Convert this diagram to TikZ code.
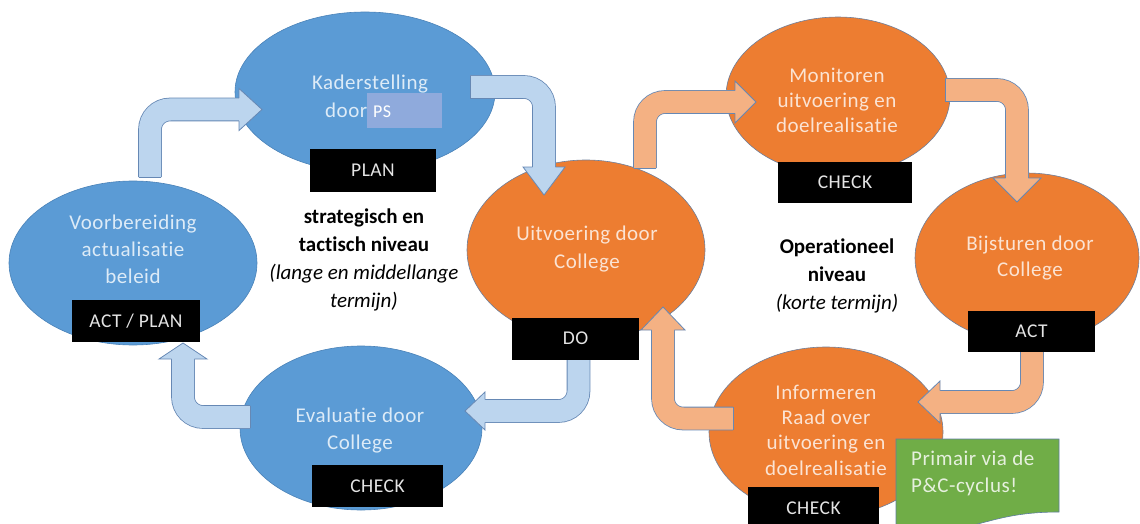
\documentclass[tikz,border=0pt]{standalone}
\usepackage{fontspec}
\setmainfont{Carlito}[Ligatures=NoCommon]
\newfontfamily\spc{Carlito}[LetterSpace=2.5,Ligatures=NoCommon]
\usetikzlibrary{shapes.geometric}
\definecolor{ellblue}{HTML}{5B9BD5}
\definecolor{ellblueline}{HTML}{4A82B8}
\definecolor{ellorange}{HTML}{ED7D31}
\definecolor{ellorangeline}{HTML}{6F7F9A}
\definecolor{arrblue}{HTML}{BCD5EE}
\definecolor{arrorange}{HTML}{F4B183}
\definecolor{arrline}{HTML}{6688B4}
\definecolor{btxt}{HTML}{DDEBF7}
\definecolor{otxt}{HTML}{FBE3D3}
\definecolor{tagtxt}{HTML}{E4E4E4}
\definecolor{psbox}{HTML}{8FAADC}
\definecolor{notegreen}{HTML}{70AD47}
\definecolor{noteline}{HTML}{5E7E9E}
\definecolor{notetxt}{HTML}{E6F0DE}
\newcommand\ahd[6]{%
  \begin{scope}[shift={(#1,#2)},rotate=#3]
    \fill[#6] (0,-#5) -- (#4,0) -- (0,#5) -- cycle;
    \draw[aline] (0,-11.4) -- (0,-#5) -- (#4,0) -- (0,#5) -- (0,11.4);
  \end{scope}}
\begin{document}
\begin{tikzpicture}[x=1pt,y=-1pt,
  ellb/.style={ellipse, draw=ellblueline, line width=0.6pt, fill=ellblue, inner sep=0pt},
  ello/.style={ellipse, draw=ellorangeline, line width=0.6pt, fill=ellorange, inner sep=0pt},
  tag/.style={fill=black, text=tagtxt, minimum width=127pt, minimum height=42pt, inner sep=0pt, font=\spc\fontsize{19.5}{21}\selectfont},
  tb/.style={text=btxt, align=center, anchor=base, inner sep=0pt, font=\spc\fontsize{21}{#1}\selectfont},
  to/.style={text=otxt, align=center, anchor=base, inner sep=0pt, font=\spc\fontsize{21}{#1}\selectfont},
  tk/.style={text=black, align=center, anchor=base, inner sep=0pt, font=\fontsize{21}{#1}\selectfont},
  aline/.style={draw=arrline, line width=0.8pt, line join=miter},
  bfill/.style={fill=arrblue},
  ofill/.style={fill=arrorange},
  bshaft/.style={draw=arrline, line width=0.8pt, double=arrblue, double distance=22pt, rounded corners=20pt},
  oshaft/.style={draw=arrline, line width=0.8pt, double=arrorange, double distance=22pt, rounded corners=20pt}
]
\useasboundingbox (0,0) rectangle (1140,524);
\clip (0,0) rectangle (1140,524);

% ellipses
\node[ellb, minimum width=260pt, minimum height=160pt] (kader) at (365,92) {};
\node[ellb, minimum width=248pt, minimum height=164pt] (voorb) at (133,263) {};
\node[ellb, minimum width=242pt, minimum height=164pt] (eval) at (361,428) {};
\node[ello, minimum width=238pt, minimum height=180pt] (uitv) at (586,250) {};
\node[ello, minimum width=224pt, minimum height=158pt] (monit) at (838,96) {};
\node[ello, minimum width=224pt, minimum height=170pt] (bijst) at (1027,258) {};
\node[ello, minimum width=234pt, minimum height=170pt] (inform) at (826,432) {};

% arrows
% 1 Voorbereiding -> Kaderstelling
\draw[bshaft] (150,177) -- (150,109.5) -- (239,109.5);
\ahd{239}{109.5}{0}{23}{21}{bfill}
\draw[aline] (138.6,177) -- (161.4,177);
% 2 Kaderstelling -> Uitvoering
\draw[bshaft] (470,87) -- (544,87) -- (544,167);
\ahd{544}{167}{-90}{28}{21}{bfill}
\draw[aline] (470,75.6) -- (470,98.4);
% 3 Uitvoering -> Monitoren
\draw[oshaft] (645,168) -- (645,102) -- (735,102);
\ahd{735}{102}{0}{21}{21}{ofill}
\draw[aline] (633.6,168) -- (656.4,168);
% 4 Monitoren -> Bijsturen
\draw[oshaft] (945,90) -- (1017,90) -- (1017,178);
\ahd{1017}{178}{-90}{24}{24}{ofill}
\draw[aline] (945,78.6) -- (945,101.4);
% 5 Evaluatie -> Voorbereiding
\draw[bshaft] (250,417) -- (183,417) -- (183,359);
\ahd{183}{359}{90}{16}{24}{bfill}
\draw[aline] (250,405.6) -- (250,428.4);
% 6 DO -> Evaluatie
\draw[bshaft] (578.5,359) -- (578.5,411) -- (485,411);
\ahd{485}{411}{180}{20}{19}{bfill}
% 7 Informeren -> Uitvoering
\draw[oshaft] (733,418.5) -- (663,418.5) -- (663,330);
\ahd{663}{330}{90}{23}{22}{ofill}
\draw[aline] (733,407.1) -- (733,429.9);
% 8 ACT -> Informeren
\draw[oshaft] (1032,352) -- (1032,402) -- (940,402);
\ahd{940}{402}{180}{22}{21}{ofill}

% PS box
\node[fill=psbox, minimum width=75pt, minimum height=35pt, inner sep=0pt] (ps) at (404.5,110.5) {};
\node[text=white, anchor=base west, inner sep=0pt, font=\spc\fontsize{18}{20}\selectfont] (pstxt) at (373,118) {PS};

% ellipse texts (anchor base = baseline of last line)
\node[tb=28] (tkader) at (370,90) {Kaderstelling};
\node[text=btxt, anchor=base west, inner sep=0pt, font=\spc\fontsize{21}{28}\selectfont] (tdoor) at (325,118) {door};
\node[tb=27] (tvoorb) at (133,283) {Voorbereiding\\actualisatie\\beleid};
\node[tb=27] (teval) at (360,449) {Evaluatie door\\College};
\node[to=28] (tuitv) at (587,268) {Uitvoering door\\College};
\node[to=25.5] (tmonit) at (837,133) {Monitoren\\uitvoering en\\doelrealisatie};
\node[to=26] (tbijst) at (1030,276) {Bijsturen door\\College};
\node[to=25.3] (tinform) at (826,475) {Informeren\\Raad over\\uitvoering en\\doelrealisatie};

% tags
\node[tag, minimum width=126pt, minimum height=43pt] (plan) at (373,170.5) {PLAN};
\node[tag] (do) at (575.5,338.5) {DO};
\node[tag, minimum width=134pt, minimum height=41pt] (check1) at (845,182.5) {CHECK};
\node[tag, minimum height=41pt] (act) at (1031.5,331.5) {ACT};
\node[tag, minimum width=128pt] (actplan) at (136,321) {ACT / PLAN};
\node[tag, minimum width=131pt] (check2) at (377.5,486) {CHECK};
\node[tag, minimum width=131pt] (check3) at (813.5,508) {CHECK};

% note
\filldraw[fill=notegreen, draw=noteline, line width=0.6pt] (896,439) -- (1059,439) -- (1059,512) .. controls (977.5,512) and (977.5,540) .. (896,524) -- cycle;
\node[text=notetxt, align=left, anchor=base west, inner sep=0pt, font=\spc\fontsize{21}{27}\selectfont] (note) at (911,492) {Primair via de\\P\&C-cyclus!};

% level texts
\node[tk=28] (strat) at (364,307) {\textbf{strategisch en}\\\textbf{tactisch niveau}\\\textit{(lange en middellange}\\\textit{termijn)}};
\node[tk=28] (oper) at (837,309) {\textbf{Operationeel}\\\textbf{niveau}\\\textit{(korte termijn)}};
\end{tikzpicture}
\end{document}
